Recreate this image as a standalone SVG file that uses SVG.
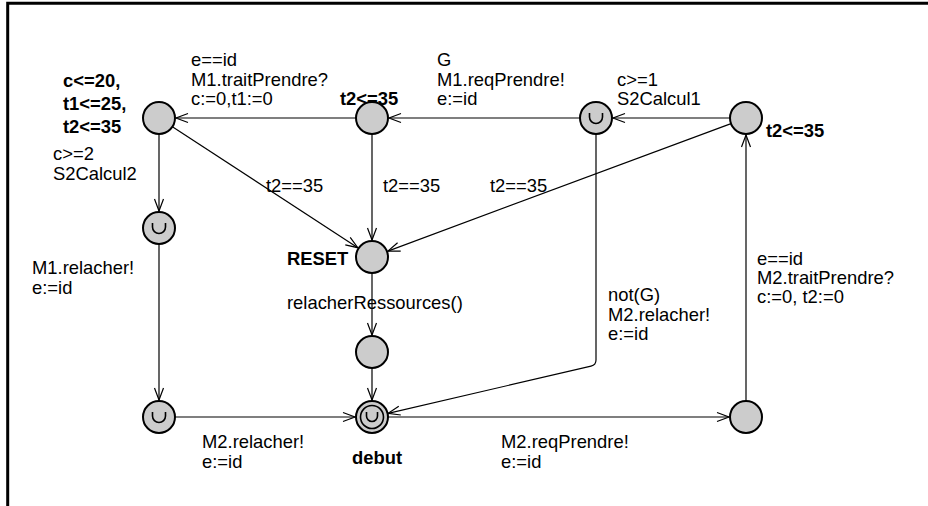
<svg xmlns="http://www.w3.org/2000/svg" width="928" height="506" viewBox="0 0 928 506">
<style>
.n{fill:#cccccc;stroke:#000;stroke-width:2}
.u{fill:none;stroke:#000;stroke-width:1.6}
.e{fill:none;stroke:#000;stroke-width:1.2}
text{font-family:"Liberation Sans",Arial,sans-serif;font-size:18.4px;fill:#000}
.b{font-weight:bold}
</style>
<defs>
<marker id="ah" markerUnits="userSpaceOnUse" markerWidth="16" markerHeight="12" viewBox="-14 -6 16 12" refX="0" refY="0" orient="auto">
<path d="M-12,-4.5 L0,0 L-12,4.5" fill="none" stroke="#000" stroke-width="1.2"/>
</marker>
</defs>
<rect width="928" height="506" fill="#fff"/>
<path d="M7.7,506 V3.3 H928" fill="none" stroke="#000" stroke-width="3"/>
<g id="edges">
<line class="e" x1="356" y1="118" x2="176" y2="118" marker-end="url(#ah)"/>
<line class="e" x1="580" y1="118" x2="389" y2="118" marker-end="url(#ah)"/>
<line class="e" x1="730" y1="118" x2="613" y2="118" marker-end="url(#ah)"/>
<line class="e" x1="172.4" y1="126.7" x2="357.8" y2="247.7" marker-end="url(#ah)"/>
<line class="e" x1="372" y1="134" x2="372" y2="240" marker-end="url(#ah)"/>
<line class="e" x1="731" y1="123.6" x2="387.9" y2="251.1" marker-end="url(#ah)"/>
<line class="e" x1="159" y1="134" x2="159" y2="211" marker-end="url(#ah)"/>
<line class="e" x1="159" y1="244" x2="159" y2="400" marker-end="url(#ah)"/>
<line class="e" x1="174" y1="417" x2="355" y2="417" marker-end="url(#ah)"/>
<line class="e" x1="372" y1="273" x2="372" y2="335" marker-end="url(#ah)"/>
<line class="e" x1="372" y1="368" x2="372" y2="400" marker-end="url(#ah)"/>
<path class="e" d="M596,134 L596,360 Q596,365 591,366.2 L388.1,413.3" marker-end="url(#ah)"/>
<line class="e" x1="388" y1="417" x2="729" y2="417" marker-end="url(#ah)"/>
<line class="e" x1="746" y1="401" x2="746" y2="135" marker-end="url(#ah)"/>
</g>
<g id="labels">
<text x="191" y="66">e==id</text>
<text x="191" y="85.5">M1.traitPrendre?</text>
<text x="191" y="105">c:=0,t1:=0</text>
<text x="437" y="66">G</text>
<text x="437" y="85.5">M1.reqPrendre!</text>
<text x="437" y="105">e:=id</text>
<text x="617" y="85.5">c&gt;=1</text>
<text x="617" y="105">S2Calcul1</text>
<text x="53" y="160">c&gt;=2</text>
<text x="53" y="180">S2Calcul2</text>
<text x="266" y="192">t2==35</text>
<text x="383" y="192">t2==35</text>
<text x="490" y="192">t2==35</text>
<text x="287" y="309">relacherRessources()</text>
<text x="32" y="274">M1.relacher!</text>
<text x="32" y="294">e:=id</text>
<text x="608" y="301">not(G)</text>
<text x="608" y="320.5">M2.relacher!</text>
<text x="608" y="340">e:=id</text>
<text x="757" y="265">e==id</text>
<text x="757" y="284">M2.traitPrendre?</text>
<text x="757" y="303">c:=0, t2:=0</text>
<text x="202" y="448">M2.relacher!</text>
<text x="202" y="468">e:=id</text>
<text x="501" y="448">M2.reqPrendre!</text>
<text x="501" y="468">e:=id</text>
</g>
<g id="nA"><circle class="n" cx="159" cy="118" r="16"/>
<text class="b" x="63" y="87">c&lt;=20,</text><text class="b" x="63" y="110">t1&lt;=25,</text><text class="b" x="63" y="133">t2&lt;=35</text></g>
<g id="nB"><circle class="n" cx="372" cy="118" r="16"/><text class="b" x="340" y="105">t2&lt;=35</text></g>
<g id="nC"><circle class="n" cx="596" cy="118" r="16"/><path class="u" d="M589.5,113 v4 a6.5,6.5 0 0 0 13,0 v-4"/></g>
<g id="nD"><circle class="n" cx="746" cy="118" r="16"/><text class="b" x="766" y="137">t2&lt;=35</text></g>
<g id="nE"><circle class="n" cx="159" cy="228" r="16"/><path class="u" d="M152.5,223 v4 a6.5,6.5 0 0 0 13,0 v-4"/></g>
<g id="nRESET"><circle class="n" cx="372" cy="257" r="16"/><text class="b" x="287" y="265">RESET</text></g>
<g id="nF"><circle class="n" cx="372" cy="352" r="16"/></g>
<g id="nDebut"><circle class="n" cx="372" cy="417" r="16"/><circle class="u" cx="372" cy="417" r="11.5"/><path class="u" d="M366.5,412 v4 a5.5,5.5 0 0 0 11,0 v-4"/><text class="b" x="352" y="464">debut</text></g>
<g id="nG"><circle class="n" cx="159" cy="417" r="16"/><path class="u" d="M152.5,412 v4 a6.5,6.5 0 0 0 13,0 v-4"/></g>
<g id="nH"><circle class="n" cx="746" cy="417" r="16"/></g>
</svg>
